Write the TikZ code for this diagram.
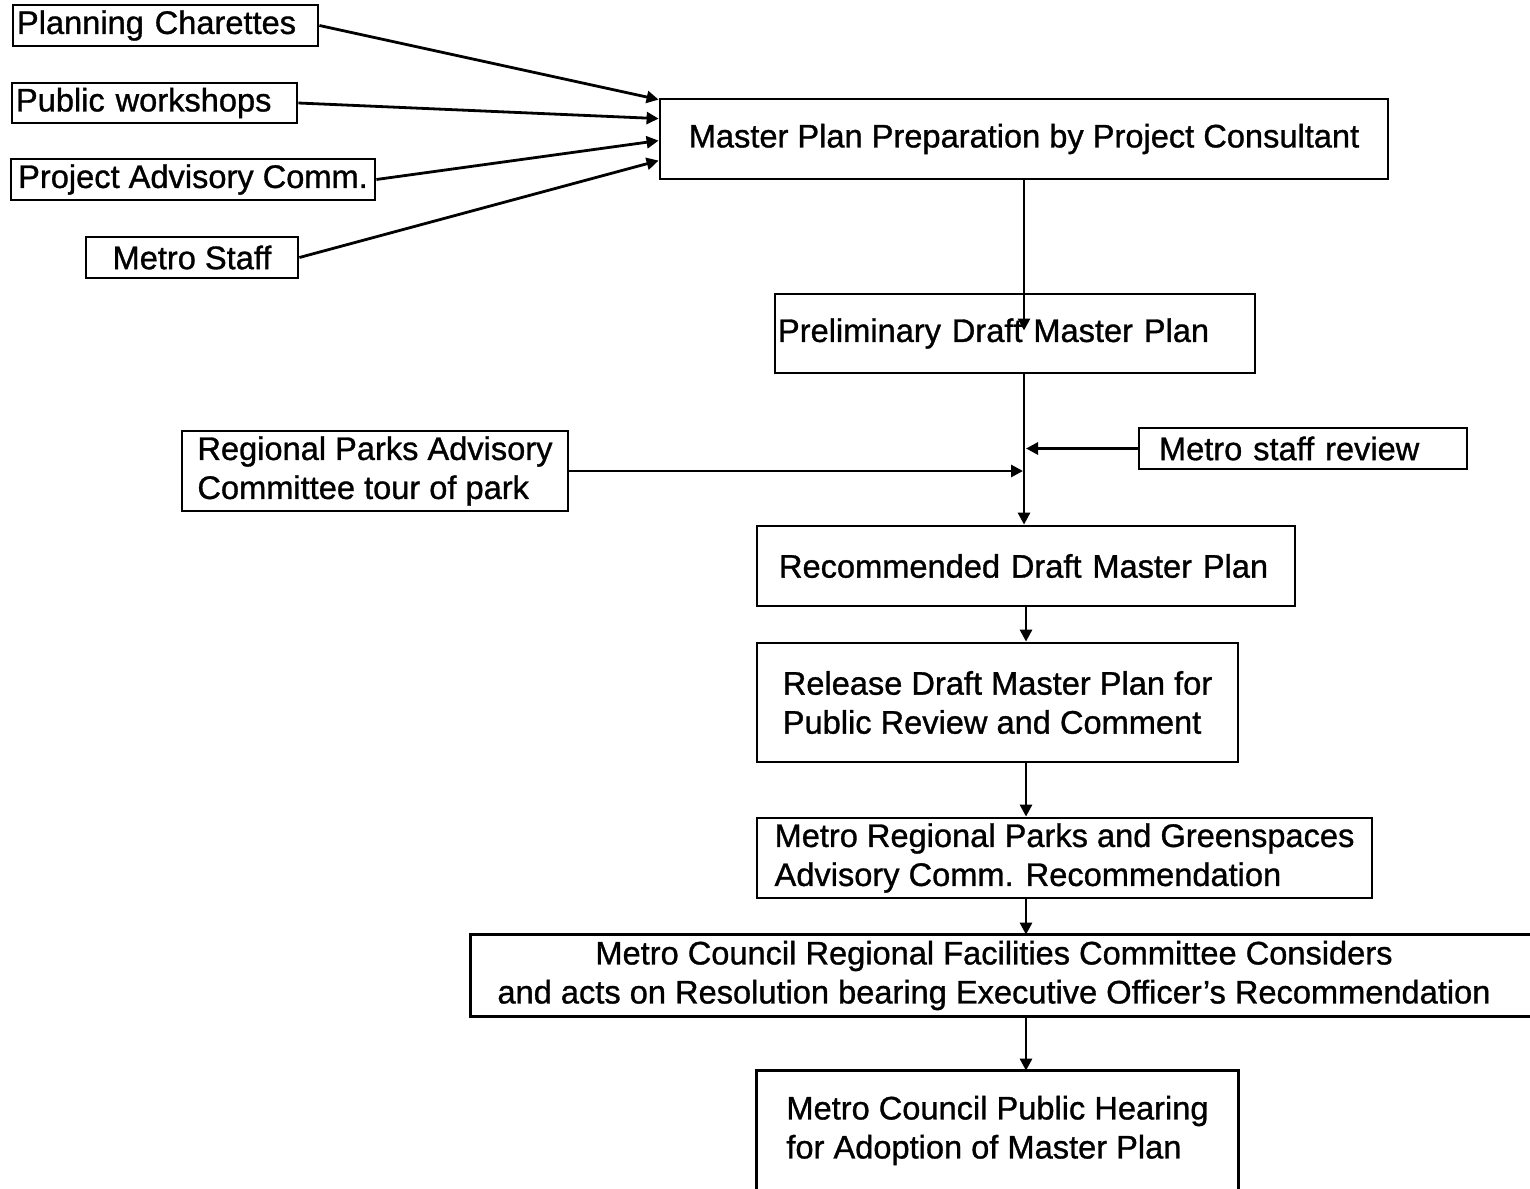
\documentclass[tikz,border=0pt]{standalone}
\usepackage{fontspec}
\setmainfont{Liberation Sans}[BoldFont=Liberation Sans, BoldFeatures={FakeBold=1.0}]
\usetikzlibrary{arrows.meta,calc}
\begin{document}
\begin{tikzpicture}[x=0.5pt,y=-0.5pt,
  font=\fontsize{16.3}{19.5}\selectfont\bfseries,
  box/.style={draw, line width=1.4pt, inner ysep=0pt, inner xsep=0pt},
  lbox/.style={box, align=left},
  conn/.style={line width=1.4pt, -{Triangle[length=6pt,width=6pt]}},
  edge/.style={line width=1.4pt}]
\useasboundingbox (0,0) rectangle (1530,1188);
\coordinate (re) at (1530,0);
% left input boxes
\node[lbox, minimum width=152.5pt, minimum height=20.5pt, text width=148.5pt, inner xsep=2pt] (pc) at (165.5,25.5) {Planning Charettes};
\node[lbox, minimum width=142.5pt, minimum height=20pt, text width=138.5pt, inner xsep=2pt] (pw) at (154.5,103) {Public workshops};
\node[lbox, minimum width=182pt, minimum height=20.5pt] (pac) at (193,179.5) {Project Advisory Comm.};
\node[box, minimum width=106pt, minimum height=20.5pt] (ms) at (192,257.5) {Metro Staff};
% main column
\node[box, minimum width=364pt, minimum height=40pt] (master) at (1024,139) {Master Plan Preparation by Project Consultant};
\node[lbox, minimum width=240pt, minimum height=39.5pt, text width=237pt, inner xsep=1.5pt] (prelim) at (1015,333.5) {Preliminary Draft Master Plan};
\node[lbox, minimum width=193pt, minimum height=40pt] (rpac) at (375,471) {Regional Parks Advisory\\Committee tour of park};
\node[lbox, minimum width=164pt, minimum height=20.5pt, text width=144pt, inner xsep=10pt] (msr) at (1303,448.5) {Metro staff review};
\node[lbox, minimum width=269pt, minimum height=40pt, text width=247pt, inner xsep=11pt] (rec) at (1026,566) {Recommended Draft Master Plan};
\node[lbox, minimum width=240.5pt, minimum height=59.5pt] (rel) at (997.5,702.5) {Release Draft Master Plan for\\Public Review and Comment};
\node[lbox, minimum width=307.5pt, minimum height=40pt] (mrp) at (1064.5,858) {Metro Regional Parks and Greenspaces\\Advisory Comm. Recommendation};
\node[inner sep=0pt, align=center, minimum width=523pt, minimum height=40.5pt] (mcr) at (994,975.5) {Metro Council Regional Facilities Committee Considers\\and acts on Resolution bearing Executive Officer's Recommendation};
\draw[edge] (mcr.north west -| re) -- (mcr.north west) -- (mcr.south west) -- (mcr.south west -| re);
\node[inner sep=0pt, align=left, minimum width=240.5pt, minimum height=59.5pt] (mcp) at (997.5,1130.5) {Metro Council Public Hearing\\for Adoption of Master Plan};
\draw[edge] (mcp.south west) -- (mcp.north west) -- (mcp.north east) -- (mcp.south east);
% inputs to master
\draw[conn] (pc.east) -- ($(master.north west)+(0,2)$);
\draw[conn] (pw.east) -- ($(master.north west)+(0,21)$);
\draw[conn] (pac.east) -- ($(master.north west)+(0,43)$);
\draw[conn] (ms.east) -- ($(master.north west)+(0,63)$);
% vertical flow
\coordinate (pend) at ($(master.south |- prelim.center)+(0,-3)$);
\draw[conn] (master.south) -- (pend);
\draw[conn] (prelim.south -| master.south) -- (rec.north -| master.south);
\draw[conn] (msr.west) -- ($(msr.west -| master.south)+(2,0)$);
\draw[conn] (rpac.east) -- ($(rpac.east -| master.south)+(-1,0)$);
\draw[conn] (rec.south) -- (rec.south |- rel.north);
\draw[conn] (rel.south -| rec.south) -- (mrp.north -| rec.south);
\draw[conn] (mrp.south -| rec.south) -- (mcr.north -| rec.south);
\draw[conn] (mcr.south -| rec.south) -- (mcp.north -| rec.south);
\end{tikzpicture}
\end{document}
